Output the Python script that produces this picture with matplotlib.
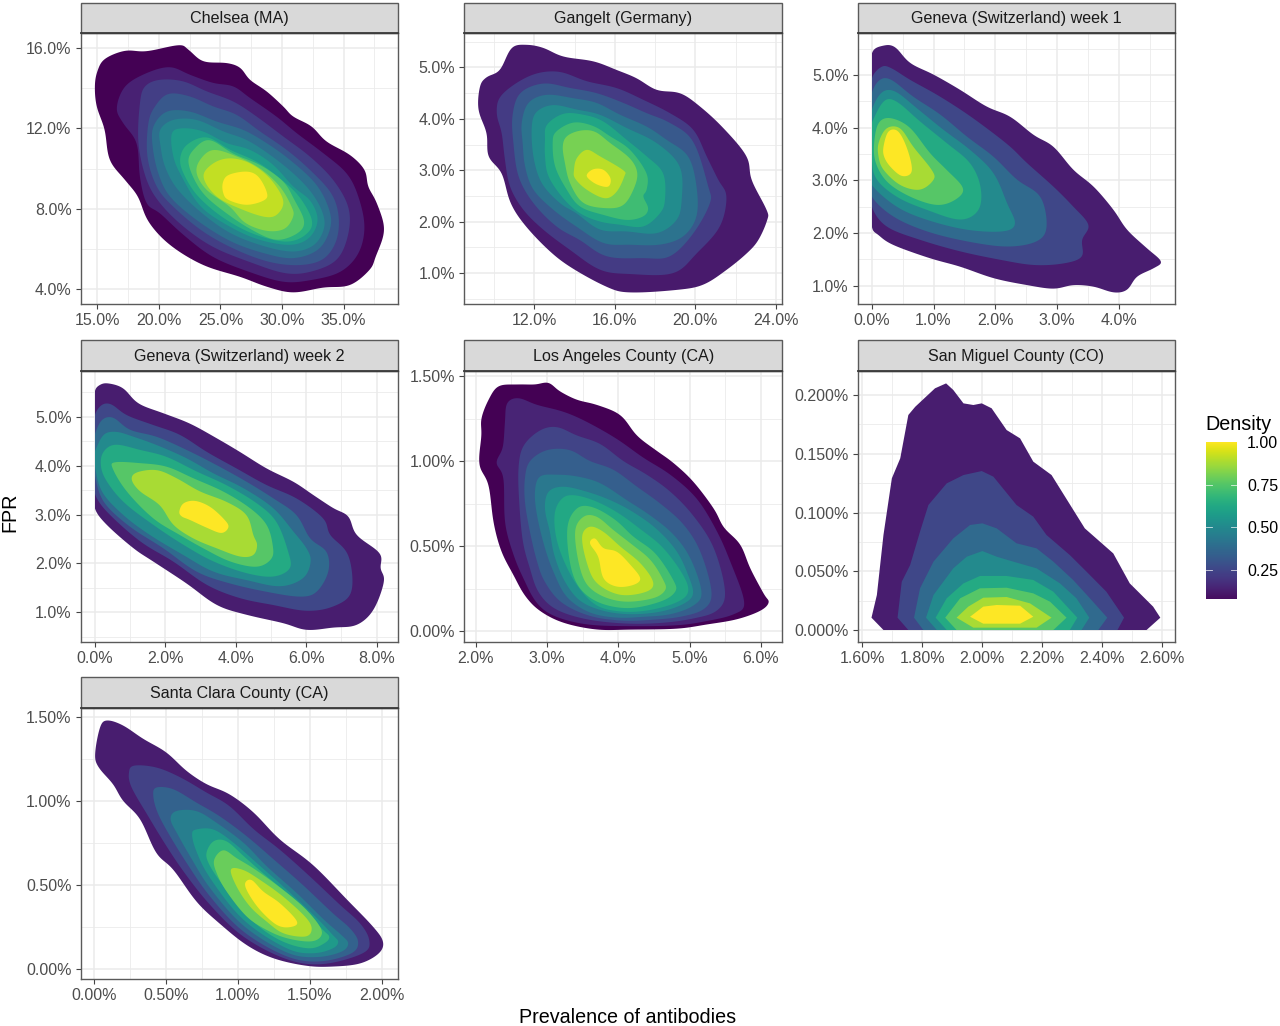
import numpy as np
import matplotlib
matplotlib.use("Agg")
import matplotlib.pyplot as plt
from matplotlib.patches import Rectangle

plt.rcParams['font.family'] = ['Liberation Sans', 'DejaVu Sans']

# Density contour outlines, from the lowest band to the highest.
# Each outline is a list of (prevalence %, FPR %) vertices.
chelsea = [
 [(15.0,14.82),(15.6,15.44),(17.25,15.85),(19.0,15.82),(21.6,16.13),(22.4,15.9),(23.6,15.32),(25.5,15.24),(26.6,15.0),(27.4,14.4),(28.75,13.83),(30.1,13.08),(30.9,12.58),(32.4,12.09),(33.6,11.34),(35.5,10.68),(36.7,9.93),(37.0,9.1),(37.7,8.27),(38.3,6.95),(37.6,5.62),(37.1,4.96),(35.5,4.2),(33.35,4.09),(30.9,3.84),(28.75,4.13),(26.6,4.62),(23.6,5.2),(20.9,6.2),(19.15,7.36),(18.3,8.6),(17.25,9.43),(16.0,10.43),(15.6,11.92),(14.95,13.08),(14.8,14.08)],
 [(16.57,13.0),(17.25,14.08),(19.0,14.74),(20.9,15.04),(22.5,14.66),(24.4,14.25),(26.05,14.08),(27.4,13.5),(29.55,12.58),(31.2,11.75),(33.35,10.76),(35.25,9.76),(36.2,8.6),(36.7,7.11),(36.2,5.78),(34.7,4.85),(32.27,4.45),(30.1,4.37),(27.4,4.85),(24.4,5.6),(22.0,6.7),(20.1,7.77),(19.0,8.27),(18.45,9.6),(18.2,11.26),(17.1,12.25)],
 [(18.46,13.25),(18.87,14.08),(20.09,14.41),(21.98,14.33),(23.88,13.83),(26.04,13.33),(27.94,12.58),(30.1,11.59),(32.27,10.59),(34.16,9.43),(35.38,8.1),(35.4,6.8),(34.5,5.5),(32.5,4.9),(30.3,4.79),(27.4,5.35),(24.4,6.1),(22.0,7.11),(20.1,8.27),(19.0,9.43),(18.33,11.26)],
 [(19.14,12.25),(19.68,13.08),(20.76,13.71),(22.52,13.58),(24.42,13.08),(26.31,12.67),(28.21,11.84),(30.37,10.93),(32.27,9.93),(34.0,8.77),(34.6,7.61),(34.4,6.4),(33.35,5.5),(31.45,5.2),(29.02,5.35),(26.31,5.95),(23.6,6.86),(21.17,8.1),(19.82,9.1),(19.06,10.59)],
 [(19.55,12.09),(20.63,12.83),(22.52,12.83),(24.69,12.33),(26.85,11.92),(28.75,11.26),(30.64,10.43),(32.7,9.27),(33.75,8.1),(33.95,7.11),(33.0,6.0),(30.91,5.54),(28.48,5.8),(25.77,6.4),(23.06,7.44),(20.9,8.6),(19.95,9.76),(19.49,11.09)],
 [(20.09,11.92),(21.17,12.42),(23.06,12.42),(25.23,11.84),(27.12,11.42),(29.02,10.68),(30.91,9.76),(32.4,8.8),(33.3,7.8),(33.4,7.0),(32.6,6.2),(30.91,5.87),(28.48,6.15),(25.77,6.8),(23.34,7.86),(21.44,9.02),(20.49,10.1),(20.14,11.09)],
 [(21.04,11.75),(21.98,12.0),(23.6,11.84),(25.5,11.26),(27.4,10.93),(29.29,10.18),(30.91,9.1),(32.3,8.4),(32.9,7.44),(32.2,6.55),(30.6,6.2),(27.94,6.5),(25.5,7.2),(23.34,8.14),(21.85,9.6),(21.17,10.59)],
 [(21.71,10.43),(22.25,11.17),(23.88,11.56),(25.77,10.93),(27.94,10.34),(29.83,9.51),(31.4,8.6),(32.45,7.4),(31.9,6.7),(30.3,6.36),(27.67,6.75),(25.23,7.55),(23.2,8.6),(22.12,9.6)],
 [(22.39,10.26),(22.93,11.01),(24.15,11.42),(26.04,10.73),(28.2,10.18),(30.1,9.35),(31.0,8.44),(31.8,7.4),(31.3,6.8),(29.6,6.45),(27.7,6.9),(25.5,7.77),(23.47,8.85)],
 [(23.06,9.76),(23.34,10.43),(24.42,10.93),(26.31,10.6),(28.2,10.01),(29.83,9.1),(30.78,8.1),(30.9,7.6),(30.2,7.0),(28.75,6.9),(27.0,7.3),(25.77,8.1),(23.88,8.93)],
 [(23.6,9.6),(24.42,10.26),(25.77,10.51),(27.4,10.26),(29.02,9.51),(30.1,8.44),(29.7,7.77),(28.75,7.58),(26.85,7.94),(24.69,8.6)],
 [(25.18,9.27),(25.64,9.68),(27.12,9.85),(28.07,9.6),(28.75,8.85),(28.61,8.44),(27.12,8.19),(25.64,8.44),(25.23,8.77)],
]

gangelt = [
 [(9.3,4.63),(9.63,4.81),(10.29,4.95),(10.87,5.38),(11.62,5.44),(12.45,5.38),(13.44,5.21),(14.93,5.12),(16.09,4.95),(17.08,4.79),(18.08,4.56),(19.24,4.5),(20.23,4.24),(21.39,3.82),(22.55,3.27),(22.79,2.81),(23.54,2.23),(23.57,2.03),(23.13,1.64),(22.55,1.38),(21.55,1.06),(20.39,0.77),(19.07,0.67),(16.75,0.62),(15.59,0.73),(13.77,1.12),(12.61,1.48),(11.45,1.97),(10.79,2.39),(10.38,2.94),(9.72,3.27),(9.63,3.72),(9.22,4.18)],
 [(10.13,4.11),(10.38,4.47),(11.78,4.84),(13.19,4.92),(14.6,4.73),(16.09,4.6),(17.41,4.37),(18.74,4.11),(19.9,3.79),(20.56,3.27),(21.14,2.81),(21.55,2.49),(21.22,1.9),(20.06,1.38),(18.9,0.99),(16.75,0.98),(15.26,1.06),(13.77,1.45),(12.45,1.84),(11.45,2.23),(10.79,2.68),(10.54,3.2),(10.38,3.72)],
 [(10.91,4.05),(11.29,4.5),(12.45,4.69),(13.77,4.6),(15.1,4.5),(16.42,4.31),(17.58,4.11),(18.74,3.92),(19.9,3.56),(20.64,2.68),(20.73,2.36),(19.9,1.77),(18.74,1.32),(17.41,1.29),(15.59,1.32),(14.27,1.64),(13.11,1.9),(11.95,2.36),(11.21,2.88),(10.96,3.53)],
 [(11.37,3.92),(11.7,4.31),(12.61,4.47),(13.94,4.4),(15.1,4.31),(16.25,4.08),(17.58,3.85),(18.57,3.59),(19.65,3.27),(20.06,2.68),(20.06,2.1),(19.4,1.71),(18.24,1.55),(16.75,1.55),(15.43,1.58),(14.1,1.9),(12.94,2.23),(11.95,2.62),(11.54,3.07),(11.42,3.53)],
 [(11.87,3.85),(12.12,4.14),(12.94,4.27),(14.1,4.18),(15.26,4.08),(16.59,3.82),(18.08,3.53),(19.24,3.07),(19.32,2.42),(19.07,2.03),(18.08,1.77),(16.59,1.81),(15.26,1.84),(14.1,2.16),(13.27,2.36),(12.36,2.75),(11.95,3.27)],
 [(12.53,3.59),(12.61,3.88),(13.44,4.1),(14.43,4.08),(15.43,3.95),(16.59,3.59),(17.58,3.27),(18.41,2.94),(18.49,2.42),(18.24,2.16),(17.41,1.9),(16.25,1.94),(15.26,2.0),(14.27,2.16),(13.44,2.45),(12.7,2.88),(12.53,3.27)],
 [(12.91,3.53),(13.08,3.75),(13.94,3.93),(14.93,3.86),(15.76,3.66),(16.75,3.4),(17.58,2.94),(17.58,2.62),(17.41,2.49),(17.66,2.26),(17.41,2.1),(16.59,2.03),(15.43,2.13),(14.27,2.29),(13.61,2.62),(13.03,3.07)],
 [(13.41,3.46),(13.61,3.66),(14.27,3.77),(15.01,3.75),(15.76,3.53),(16.75,3.23),(17.12,2.94),(16.92,2.62),(16.42,2.32),(15.59,2.26),(14.43,2.36),(13.77,2.75),(13.52,3.14)],
 [(13.97,3.0),(14.1,3.23),(14.6,3.4),(15.26,3.27),(16.42,3.0),(16.47,2.88),(16.09,2.58),(15.51,2.45),(14.6,2.62),(14.02,2.84)],
 [(14.6,2.91),(14.93,3.02),(15.43,3.01),(15.79,2.84),(15.68,2.68),(15.18,2.71),(14.76,2.81)],
]

geneva1 = [
 [(0,5.42),(0.19,5.56),(0.38,5.53),(0.62,5.23),(1.0,5.01),(1.43,4.72),(1.86,4.4),(2.24,4.21),(2.62,3.86),(2.94,3.64),(3.26,3.2),(3.59,2.88),(3.91,2.44),(4.13,2.06),(4.45,1.71),(4.68,1.46),(4.56,1.33),(4.29,1.17),(4.13,0.92),(3.91,0.87),(3.59,0.98),(3.26,1.01),(2.94,0.94),(2.51,1.01),(1.97,1.14),(1.43,1.36),(0.94,1.52),(0.35,1.77),(0.11,1.96),(0,2.12)],
 [(0,4.94),(0.16,5.16),(0.32,5.13),(0.62,4.91),(1.05,4.63),(1.48,4.31),(1.86,3.99),(2.24,3.64),(2.51,3.33),(2.94,2.88),(3.26,2.5),(3.51,2.15),(3.4,1.87),(3.4,1.55),(3.1,1.42),(2.62,1.39),(2.08,1.49),(1.43,1.65),(0.78,1.87),(0.24,2.12),(0,2.5)],
 [(0,4.66),(0.13,4.91),(0.32,4.91),(0.67,4.59),(1.11,4.25),(1.54,3.83),(1.97,3.45),(2.35,3.01),(2.73,2.69),(2.83,2.12),(2.67,1.84),(2.19,1.74),(1.54,1.84),(0.89,2.03),(0.35,2.31),(0,2.69)],
 [(0,4.34),(0.16,4.67),(0.38,4.69),(0.73,4.37),(1.16,3.96),(1.59,3.58),(1.97,3.14),(2.19,2.56),(2.32,2.18),(2.13,2.03),(1.54,2.06),(0.89,2.25),(0.4,2.5),(0,2.91)],
 [(0,4.09),(0.19,4.5),(0.4,4.5),(0.78,4.12),(1.21,3.71),(1.59,3.33),(1.76,2.88),(1.73,2.44),(1.43,2.25),(0.89,2.44),(0.4,2.69),(0.05,3.07),(0,3.58)],
 [(0.05,3.83),(0.13,4.12),(0.32,4.18),(0.62,4.0),(0.94,3.52),(1.21,3.2),(1.48,2.85),(1.35,2.63),(1.05,2.53),(0.62,2.69),(0.24,2.98),(0.05,3.39)],
 [(0.11,3.71),(0.24,3.99),(0.46,3.99),(0.67,3.64),(0.97,3.2),(1.0,3.01),(0.78,2.82),(0.46,2.91),(0.19,3.2),(0.11,3.45)],
 [(0.19,3.64),(0.27,3.93),(0.43,3.93),(0.58,3.58),(0.65,3.17),(0.49,3.08),(0.3,3.26),(0.2,3.45)],
]

geneva2 = [
 [(0,5.51),(0.15,5.65),(0.39,5.68),(0.81,5.58),(1.24,5.27),(1.95,5.07),(2.7,4.86),(3.46,4.56),(4.12,4.28),(4.88,3.94),(5.64,3.67),(6.2,3.4),(6.77,3.13),(7.2,2.96),(7.43,2.58),(8.09,2.21),(8.11,1.9),(8.21,1.63),(7.91,1.05),(7.43,0.74),(6.77,0.69),(6.01,0.64),(5.35,0.78),(4.31,0.95),(3.46,1.15),(2.61,1.59),(1.66,2.04),(1.1,2.31),(0.34,2.79),(0,3.13)],
 [(0,5.03),(0.2,5.24),(0.48,5.25),(0.91,5.03),(1.66,4.83),(2.42,4.63),(3.18,4.28),(4.03,3.94),(4.88,3.6),(5.73,3.33),(6.49,2.92),(6.68,2.58),(7.2,2.17),(7.29,1.42),(6.77,1.12),(6.01,1.03),(5.07,1.15),(4.12,1.29),(3.18,1.56),(2.23,2.04),(1.29,2.45),(0.34,3.06),(0,3.43)],
 [(0,4.63),(0.2,4.93),(0.53,4.98),(1.0,4.73),(1.76,4.59),(2.61,4.32),(3.46,4.01),(4.31,3.67),(5.07,3.33),(5.73,2.99),(6.11,2.51),(6.58,2.24),(6.63,1.83),(6.3,1.42),(5.82,1.32),(4.88,1.42),(3.84,1.59),(2.89,1.83),(1.95,2.31),(1.0,2.75),(0.25,3.26),(0,3.81)],
 [(0,4.28),(0.25,4.63),(0.62,4.69),(1.1,4.59),(1.76,4.42),(2.61,4.15),(3.37,3.84),(4.22,3.54),(5.07,3.13),(5.64,2.65),(6.01,2.31),(6.13,2.04),(5.92,1.7),(5.26,1.53),(4.31,1.66),(3.37,1.83),(2.52,2.17),(1.57,2.58),(0.81,2.99),(0.2,3.47),(0,4.01)],
 [(0.17,4.08),(0.29,4.32),(0.62,4.43),(1.29,4.32),(2.04,4.18),(2.89,3.88),(3.74,3.6),(4.6,3.23),(5.16,2.85),(5.49,2.24),(5.54,1.9),(5.07,1.73),(4.31,1.8),(3.37,2.04),(2.52,2.38),(1.66,2.79),(0.81,3.26),(0.29,3.74)],
 [(0.51,3.94),(0.58,4.07),(1.29,4.05),(2.04,3.98),(2.8,3.74),(3.65,3.47),(4.41,3.13),(4.88,2.79),(5.05,2.38),(5.02,2.1),(4.6,1.93),(3.84,2.04),(3.08,2.31),(2.42,2.58),(1.66,2.92),(0.91,3.47)],
 [(1.05,3.71),(1.19,3.86),(1.76,3.91),(2.33,3.74),(2.99,3.47),(3.74,3.26),(4.31,2.99),(4.5,2.58),(4.61,2.38),(4.5,2.17),(4.12,2.14),(3.46,2.31),(2.8,2.51),(2.23,2.79),(1.85,3.19),(1.29,3.47)],
 [(2.4,3.06),(2.52,3.23),(2.85,3.28),(3.27,3.16),(3.65,2.92),(3.8,2.75),(3.6,2.62),(3.18,2.73),(2.7,2.89),(2.47,2.96)],
]

los_angeles = [
 [(2.08,1.25),(2.18,1.36),(2.32,1.44),(2.58,1.45),(2.83,1.45),(3.02,1.46),(3.18,1.41),(3.42,1.36),(3.7,1.33),(4.03,1.27),(4.26,1.15),(4.54,1.06),(4.77,0.99),(5.05,0.88),(5.34,0.72),(5.48,0.61),(5.71,0.51),(5.85,0.37),(6.04,0.22),(6.11,0.17),(5.99,0.12),(5.66,0.07),(5.24,0.04),(4.82,0.015),(4.17,0.01),(3.7,0.01),(3.23,0.05),(2.9,0.12),(2.69,0.21),(2.53,0.33),(2.36,0.47),(2.25,0.64),(2.18,0.86),(2.05,0.98),(2.08,1.15)],
 [(2.29,0.99),(2.38,1.08),(2.41,1.23),(2.44,1.34),(2.6,1.37),(2.86,1.33),(3.23,1.29),(3.56,1.23),(3.98,1.13),(4.35,1.02),(4.73,0.92),(5.1,0.78),(5.38,0.59),(5.57,0.41),(5.77,0.17),(5.62,0.1),(5.24,0.06),(4.82,0.035),(4.17,0.03),(3.56,0.04),(3.1,0.09),(2.85,0.17),(2.67,0.31),(2.53,0.45),(2.41,0.64),(2.39,0.9)],
 [(2.6,0.96),(2.67,1.09),(2.9,1.18),(3.14,1.2),(3.42,1.15),(3.75,1.1),(4.07,1.0),(4.4,0.92),(4.73,0.82),(5.05,0.68),(5.34,0.49),(5.5,0.23),(5.38,0.12),(5.05,0.075),(4.63,0.05),(4.12,0.045),(3.56,0.07),(3.12,0.13),(2.88,0.23),(2.76,0.37),(2.66,0.53),(2.61,0.76)],
 [(2.69,0.9),(2.76,1.0),(3.0,1.065),(3.32,1.065),(3.6,1.0),(3.93,0.95),(4.26,0.85),(4.59,0.75),(4.91,0.63),(5.15,0.47),(5.31,0.23),(5.2,0.13),(4.87,0.085),(4.49,0.068),(4.07,0.062),(3.6,0.09),(3.2,0.17),(2.97,0.29),(2.86,0.41),(2.76,0.585),(2.69,0.76)],
 [(2.83,0.82),(2.9,0.91),(3.14,0.92),(3.42,0.91),(3.75,0.87),(4.12,0.77),(4.45,0.68),(4.77,0.57),(5.01,0.43),(5.17,0.23),(5.05,0.15),(4.73,0.1),(4.35,0.085),(3.98,0.08),(3.6,0.11),(3.28,0.2),(3.1,0.34),(2.97,0.49),(2.86,0.68)],
 [(2.97,0.72),(3.02,0.82),(3.23,0.85),(3.56,0.82),(3.89,0.77),(4.21,0.7),(4.54,0.6),(4.82,0.47),(4.98,0.33),(5.05,0.22),(4.91,0.16),(4.59,0.115),(4.17,0.1),(3.79,0.12),(3.46,0.18),(3.24,0.3),(3.1,0.45),(3.04,0.585)],
 [(3.11,0.7),(3.21,0.78),(3.37,0.8),(3.65,0.77),(3.98,0.7),(4.31,0.6),(4.63,0.49),(4.91,0.33),(4.98,0.23),(4.82,0.17),(4.45,0.125),(4.07,0.115),(3.7,0.15),(3.42,0.27),(3.22,0.43),(3.12,0.57)],
 [(3.28,0.595),(3.42,0.723),(3.65,0.728),(3.96,0.654),(4.21,0.556),(4.52,0.458),(4.77,0.302),(4.8,0.233),(4.59,0.174),(4.12,0.135),(3.65,0.184),(3.37,0.321)],
 [(3.39,0.576),(3.51,0.673),(3.7,0.673),(3.93,0.595),(4.17,0.517),(4.45,0.42),(4.63,0.302),(4.66,0.243),(4.49,0.194),(4.07,0.174),(3.7,0.223),(3.49,0.33)],
 [(3.49,0.556),(3.6,0.615),(3.79,0.585),(4.03,0.497),(4.31,0.4),(4.49,0.29),(4.4,0.233),(4.03,0.213),(3.7,0.282),(3.56,0.4)],
 [(3.6,0.517),(3.675,0.546),(3.79,0.488),(3.98,0.468),(4.17,0.39),(4.31,0.311),(4.21,0.272),(3.98,0.262),(3.79,0.311),(3.72,0.438)],
]

san_miguel = [
 [(1.63,0.0105),(1.648,0.0298),(1.67,0.0809),(1.698,0.1291),(1.726,0.1461),(1.753,0.183),(1.776,0.19),(1.842,0.2057),(1.879,0.2099),(1.903,0.2043),(1.937,0.1929),(1.97,0.1915),(1.998,0.1929),(2.031,0.1887),(2.081,0.1702),(2.126,0.1631),(2.17,0.1433),(2.231,0.1319),(2.342,0.0865),(2.437,0.0652),(2.492,0.0397),(2.57,0.0199),(2.594,0.0105),(2.548,0),(1.67,0)],
 [(1.717,0.0105),(1.731,0.0411),(1.759,0.0553),(1.792,0.0837),(1.82,0.1064),(1.881,0.1248),(1.937,0.1319),(1.998,0.1353),(2.037,0.1305),(2.114,0.1064),(2.17,0.0965),(2.214,0.0809),(2.292,0.0638),(2.348,0.0496),(2.414,0.0326),(2.473,0.0105),(2.451,0),(1.753,0)],
 [(1.772,0.0105),(1.792,0.0355),(1.837,0.0582),(1.903,0.078),(1.959,0.0894),(2.0,0.0908),(2.048,0.0865),(2.114,0.0738),(2.181,0.0695),(2.237,0.0582),(2.303,0.0426),(2.359,0.027),(2.417,0.0105),(2.387,0),(1.803,0)],
 [(1.812,0.0105),(1.837,0.0298),(1.903,0.0525),(1.948,0.0624),(2.0,0.0672),(2.048,0.0624),(2.103,0.0582),(2.181,0.0525),(2.259,0.0397),(2.314,0.027),(2.357,0.0105),(2.331,0),(1.848,0)],
 [(1.844,0.0105),(1.881,0.027),(1.937,0.0397),(1.992,0.046),(2.081,0.046),(2.17,0.0426),(2.237,0.0326),(2.317,0.0105),(2.292,0),(1.881,0)],
 [(1.876,0.0105),(1.926,0.027),(1.992,0.0355),(2.081,0.036),(2.17,0.0312),(2.226,0.0241),(2.281,0.0105),(2.237,0),(1.914,0)],
 [(1.914,0.0105),(1.953,0.0199),(2.003,0.0275),(2.081,0.0281),(2.159,0.0227),(2.231,0.0105),(2.181,0.002),(1.97,0.002)],
 [(1.959,0.0113),(2.003,0.0199),(2.048,0.0213),(2.126,0.0207),(2.17,0.0113),(2.126,0.0054),(2.003,0.0054)],
]

santa_clara = [
 [(0.005,1.28),(0.04,1.44),(0.09,1.48),(0.2,1.45),(0.34,1.37),(0.5,1.29),(0.64,1.18),(0.78,1.1),(0.94,1.04),(1.11,0.93),(1.29,0.77),(1.52,0.62),(1.76,0.41),(1.94,0.25),(2.01,0.16),(1.98,0.09),(1.85,0.03),(1.66,0.012),(1.48,0.016),(1.25,0.06),(1.06,0.14),(0.87,0.27),(0.71,0.4),(0.55,0.59),(0.43,0.69),(0.32,0.89),(0.2,1.0),(0.13,1.1),(0.03,1.2)],
 [(0.24,1.16),(0.27,1.21),(0.43,1.2),(0.6,1.14),(0.78,1.05),(0.94,0.97),(1.11,0.83),(1.29,0.71),(1.5,0.55),(1.71,0.38),(1.85,0.27),(1.914,0.17),(1.873,0.092),(1.594,0.026),(1.339,0.055),(1.037,0.19),(0.805,0.38),(0.62,0.58),(0.48,0.76),(0.36,0.93),(0.29,1.03),(0.25,1.1)],
 [(0.41,1.03),(0.43,1.08),(0.55,1.07),(0.71,0.99),(0.87,0.91),(1.06,0.79),(1.25,0.65),(1.45,0.5),(1.66,0.33),(1.78,0.24),(1.837,0.16),(1.79,0.09),(1.571,0.042),(1.339,0.072),(1.037,0.22),(0.805,0.43),(0.65,0.62),(0.52,0.8),(0.44,0.93)],
 [(0.53,0.89),(0.57,0.94),(0.71,0.94),(0.85,0.87),(1.04,0.75),(1.2,0.61),(1.41,0.45),(1.6,0.29),(1.72,0.2),(1.768,0.15),(1.72,0.10),(1.548,0.068),(1.339,0.095),(1.037,0.255),(0.805,0.48),(0.68,0.65),(0.58,0.8)],
 [(0.68,0.8),(0.71,0.83),(0.83,0.83),(0.97,0.75),(1.13,0.63),(1.34,0.47),(1.55,0.3),(1.66,0.2),(1.698,0.16),(1.66,0.12),(1.524,0.091),(1.339,0.12),(1.037,0.29),(0.805,0.54),(0.71,0.7)],
 [(0.78,0.69),(0.83,0.76),(0.92,0.76),(1.04,0.67),(1.2,0.55),(1.41,0.4),(1.58,0.24),(1.636,0.19),(1.6,0.15),(1.501,0.12),(1.339,0.151),(1.176,0.23),(1.014,0.36),(0.875,0.52),(0.80,0.62)],
 [(0.833,0.648),(0.898,0.707),(0.991,0.658),(1.107,0.598),(1.269,0.499),(1.455,0.369),(1.571,0.25),(1.576,0.19),(1.501,0.161),(1.339,0.181),(1.2,0.23),(1.06,0.31),(0.921,0.459),(0.852,0.568)],
 [(0.949,0.592),(1.037,0.588),(1.153,0.529),(1.315,0.429),(1.478,0.3),(1.513,0.23),(1.466,0.19),(1.315,0.21),(1.2,0.28),(1.083,0.37),(0.991,0.488)],
 [(1.049,0.509),(1.095,0.529),(1.176,0.459),(1.292,0.39),(1.413,0.28),(1.362,0.247),(1.269,0.26),(1.153,0.35),(1.072,0.449)],
]

chelsea_xticks = [15, 20, 25, 30, 35];        chelsea_yticks = [4, 8, 12, 16]
gangelt_xticks = [12, 16, 20, 24];            gangelt_yticks = [1, 2, 3, 4, 5]
geneva1_xticks = [0, 1, 2, 3, 4];             geneva1_yticks = [1, 2, 3, 4, 5]
geneva2_xticks = [0, 2, 4, 6, 8];             geneva2_yticks = [1, 2, 3, 4, 5]
la_xticks = [2, 3, 4, 5, 6];                  la_yticks = [0, 0.5, 1.0, 1.5]
sm_xticks = [1.6, 1.8, 2.0, 2.2, 2.4, 2.6];   sm_yticks = [0, 0.05, 0.10, 0.15, 0.20]
sc_xticks = [0, 0.5, 1.0, 1.5, 2.0];          sc_yticks = [0, 0.5, 1.0, 1.5]
density_ticks = [0.25, 0.50, 0.75, 1.00]

W, H = 1280, 1026
fig = plt.figure(figsize=(W / 100, H / 100), dpi=100)
TXT = '#4d4d4d'; EDGE = '#5a5a5a'


def smooth(pts, n=14):
    p = np.asarray(pts, float)
    # outlines cut by the x = 0 boundary: keep the closing edge straight
    if p[0, 0] == 0 and p[-1, 0] == 0:
        p = np.vstack([p, np.column_stack([np.zeros(5), np.linspace(p[-1, 1], p[0, 1], 7)[1:-1]])])
    out = []
    for i in range(len(p)):
        p0, p1, p2, p3 = p[i - 1], p[i], p[(i + 1) % len(p)], p[(i + 2) % len(p)]
        for t in np.linspace(0, 1, n, endpoint=False):
            out.append(0.5 * (2 * p1 + (p2 - p0) * t + (2 * p0 - 5 * p1 + 4 * p2 - p3) * t ** 2
                              + (3 * p1 - p0 - 3 * p2 + p3) * t ** 3))
    out = np.array(out)
    k = n // 2
    kernel = np.ones(k) / k
    wrapped = np.vstack([out[-k:], out, out[:k]])
    return np.column_stack([np.convolve(wrapped[:, j], kernel, mode='same')[k:-k] for j in range(2)])


def panel(left, top, right, bottom, strip_top, title, levels, xlim, ylim, xticks, yticks,
          xfmt, yfmt, t0, use_smooth=True, xmin=None, ymin=None):
    ax = fig.add_axes([left / W, 1 - bottom / H, (right - left) / W, (bottom - top) / H])
    ax.set_xlim(*xlim); ax.set_ylim(*ylim)
    ax.set_xticks(xticks); ax.set_yticks(yticks)
    ax.set_xticklabels([xfmt % v + '%' for v in xticks])
    ax.set_yticklabels([yfmt % v + '%' for v in yticks])
    dx = (xticks[1] - xticks[0]) / 2; dy = (yticks[1] - yticks[0]) / 2
    xm = np.arange(xticks[0] - 3 * dx, xticks[-1] + 3.5 * dx, 2 * dx)
    ym = np.arange(yticks[0] - 3 * dy, yticks[-1] + 3.5 * dy, 2 * dy)
    ax.set_xticks([v for v in xm if xlim[0] < v < xlim[1]], minor=True)
    ax.set_yticks([v for v in ym if ylim[0] < v < ylim[1]], minor=True)
    ax.grid(True, which='major', color='#ebebeb', lw=1.15)
    ax.grid(True, which='minor', color='#ebebeb', lw=0.6)
    ax.set_axisbelow(True)
    ax.tick_params(which='major', length=3.4, width=0.8, color='#444444', labelcolor=TXT,
                   labelsize=11.5, pad=3.2)
    ax.tick_params(which='minor', length=0)
    for s in ax.spines.values():
        s.set_color(EDGE); s.set_linewidth(1.0); s.set_zorder(10)
    n = len(levels)
    x0 = xlim[0] if xmin is None else xmin
    y0 = ylim[0] if ymin is None else ymin
    clip = Rectangle((x0, y0), xlim[1] - x0, ylim[1] - y0, transform=ax.transData)
    for i, pts in enumerate(levels):
        c = smooth(pts) if use_smooth else np.asarray(pts, float)
        for poly in ax.fill(c[:, 0], c[:, 1], color=plt.cm.viridis(t0 + (1 - t0) * i / (n - 1)), lw=0,
                            zorder=2 + i * 0.01):
            poly.set_clip_path(clip)
    fig.add_artist(Rectangle((left / W, 1 - top / H), (right - left) / W, (top - strip_top) / H,
                             transform=fig.transFigure, facecolor='#d9d9d9', edgecolor=EDGE, lw=1.0))
    fig.add_artist(plt.Line2D([left / W, right / W], [1 - top / H] * 2, transform=fig.transFigure,
                              color='#3a3a3a', lw=1.3))
    fig.text((left + right) / 2 / W, 1 - ((strip_top + top) / 2 + 0.8) / H, title, ha='center', va='center',
             fontsize=11.6, color='#1a1a1a')
    return ax


C1, C2, C3 = (80.7, 398.3), (464.3, 782.3), (857.7, 1175.3)
panel(C1[0], 33, C1[1], 304, 2.7, 'Chelsea (MA)', chelsea, (13.65, 39.44), (3.27, 16.73),
      chelsea_xticks, chelsea_yticks, '%.1f', '%.1f', 0.0)
panel(C2[0], 33, C2[1], 304, 2.7, 'Gangelt (Germany)', gangelt, (8.52, 24.32), (0.396, 5.67),
      gangelt_xticks, gangelt_yticks, '%.1f', '%.1f', 0.07)
panel(C3[0], 33, C3[1], 304, 2.7, 'Geneva (Switzerland) week 1', geneva1, (-0.227, 4.91), (0.65, 5.8),
      geneva1_xticks, geneva1_yticks, '%.1f', '%.1f', 0.08, xmin=0)
panel(C1[0], 370.7, C1[1], 642, 339.7, 'Geneva (Switzerland) week 2', geneva2, (-0.397, 8.615), (0.394, 5.94),
      geneva2_xticks, geneva2_yticks, '%.1f', '%.1f', 0.08, xmin=0)
panel(C2[0], 370.7, C2[1], 642, 339.7, 'Los Angeles County (CA)', los_angeles, (1.84, 6.30), (-0.063, 1.531),
      la_xticks, la_yticks, '%.1f', '%.2f', 0.0)
panel(C3[0], 370.7, C3[1], 642, 339.7, 'San Miguel County (CO)', san_miguel, (1.584, 2.644), (-0.0102, 0.2207),
      sm_xticks, sm_yticks, '%.2f', '%.3f', 0.08, use_smooth=False)
panel(C1[0], 708, C1[1], 979.3, 677.3, 'Santa Clara County (CA)', santa_clara, (-0.095, 2.116), (-0.064, 1.554),
      sc_xticks, sc_yticks, '%.2f', '%.2f', 0.08)

fig.text(628 / W, 1 - 1017.5 / H, 'Prevalence of antibodies', ha='center', va='center', fontsize=14.2, color='black')
fig.text(10 / W, 1 - 512 / H, 'FPR', rotation=90, ha='center', va='center', fontsize=14.2, color='black')

# colour bar
cax = fig.add_axes([1205.7 / W, 1 - 599.3 / H, 31 / W, 157 / H])
lo = 0.25 - (599.3 - 570) / 170.0
grad = np.linspace(lo, 1.0, 256)[:, None]
cax.imshow(grad, aspect='auto', origin='lower', cmap='viridis', vmin=lo - 0.03, vmax=1.0, extent=(0, 1, lo, 1.0))
cax.set_xlim(0, 1); cax.set_ylim(lo, 1.0)
cax.set_xticks([])
cax.yaxis.tick_right()
cax.set_yticks(density_ticks)
cax.set_yticklabels(['%.2f' % v for v in density_ticks])
cax.tick_params(axis='y', length=0, pad=7.5, labelsize=11.5, labelcolor='black')
for s in cax.spines.values():
    s.set_visible(False)
for v in density_ticks[:-1]:
    cax.plot([0, 0.2], [v, v], color='white', lw=0.6, alpha=0.8)
    cax.plot([0.8, 1], [v, v], color='white', lw=0.6, alpha=0.8)
fig.text(1205.5 / W, 1 - 424 / H, 'Density', ha='left', va='center', fontsize=14.2, color='black')

fig.savefig('out.png', dpi=100)
